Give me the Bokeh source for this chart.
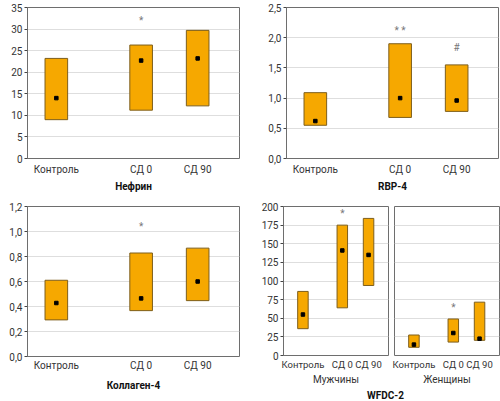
from bokeh.plotting import figure
from bokeh.models import FixedTicker, CustomJSTickFormatter, Range1d
from bokeh.layouts import row, column
from bokeh.embed import file_html
from bokeh.resources import INLINE
from bokeh.core.properties import value

# ---------------- data ----------------
groups = ["Контроль", "СД 0", "СД 90"]

nephrin_low = [9.0, 11.2, 12.2]
nephrin_high = [23.2, 26.3, 29.7]
nephrin_median = [14.0, 22.7, 23.2]
nephrin_sig = ["", "*", ""]
nephrin_sig_y = [None, 32.7, None]
nephrin_ticks = [0, 5, 10, 15, 20, 25, 30, 35]

rbp4_low = [0.55, 0.68, 0.78]
rbp4_high = [1.09, 1.90, 1.55]
rbp4_median = [0.62, 1.00, 0.96]
rbp4_sig = ["", "* *", "#"]
rbp4_sig_y = [None, 2.17, 1.83]
rbp4_ticks = [0.0, 0.5, 1.0, 1.5, 2.0, 2.5]

col4_low = [0.293, 0.367, 0.447]
col4_high = [0.61, 0.828, 0.867]
col4_median = [0.428, 0.465, 0.60]
col4_sig = ["", "*", ""]
col4_sig_y = [None, 1.064, None]
col4_ticks = [0.0, 0.2, 0.4, 0.6, 0.8, 1.0, 1.2]

wfdc_men_low = [36, 64, 94]
wfdc_men_high = [86, 175, 184]
wfdc_men_median = [55, 141, 135]
wfdc_men_sig = ["", "*", ""]
wfdc_men_sig_y = [None, 195, None]

wfdc_women_low = [11, 18, 20.4]
wfdc_women_high = [27.5, 49, 71.6]
wfdc_women_median = [14.6, 30.2, 22.6]
wfdc_women_sig = ["", "*", ""]
wfdc_women_sig_y = [None, 68, None]
wfdc_ticks = [0, 25, 50, 75, 100, 125, 150, 175, 200]

# ---------------- layout / style ----------------
SLOTS = [0, 1.5, 2.5]          # horizontal slots of the three groups
FONT = "Roboto"
ORANGE = "#F6A800"
EDGE = "#7D5E1C"
FRAME = "#6e6e6e"
GRID = "#dedede"
TXT = "#333333"
SIG_OFFSET = {"*": 3, "* *": 3, "#": 0}

comma_fmt = CustomJSTickFormatter(code="return tick.toFixed(1).replace('.', ',');")


def panel(w, h, bl, br, bt, bb, xr, y_end, ticks, low, high, med, sig, sig_y,
          title, label_standoff, title_standoff, xlabel_bold=True,
          left_axis=True, fmt=None, cat_size="10px"):
    p = figure(width=w, height=h, output_backend="svg", toolbar_location=None,
               x_range=Range1d(*xr), y_range=Range1d(0, y_end),
               min_border_left=bl, min_border_right=br,
               min_border_top=bt, min_border_bottom=bb)
    p.outline_line_color = FRAME
    p.outline_line_width = 1
    p.xgrid.visible = False
    p.ygrid.grid_line_color = GRID
    p.ygrid.ticker = FixedTicker(ticks=ticks)

    # y axis
    ya = p.yaxis[0]
    if left_axis:
        ya.ticker = FixedTicker(ticks=ticks)
        if fmt is not None:
            ya.formatter = fmt
        ya.axis_line_color = None
        ya.minor_tick_line_color = None
        ya.major_tick_line_color = "#444444"
        ya.major_tick_out = 3
        ya.major_tick_in = 0
        ya.major_label_text_font = FONT
        ya.major_label_text_font_size = "10px"
        ya.major_label_text_color = TXT
        ya.major_label_standoff = 2
    else:
        ya.visible = False

    # x axis
    xa = p.xaxis[0]
    xa.ticker = FixedTicker(ticks=SLOTS)
    xa.major_label_overrides = {s: g for s, g in zip(SLOTS, groups)}
    xa.axis_line_color = None
    xa.major_tick_line_color = None
    xa.minor_tick_line_color = None
    xa.major_tick_out = 0
    xa.major_tick_in = 0
    xa.major_label_standoff = label_standoff
    xa.major_label_text_font = FONT
    xa.major_label_text_font_size = cat_size
    xa.major_label_text_color = TXT
    xa.axis_label = title
    xa.axis_label_text_font = FONT
    xa.axis_label_text_font_size = "10px"
    xa.axis_label_text_font_style = "bold" if xlabel_bold else "normal"
    xa.axis_label_text_color = "#111111" if xlabel_bold else TXT
    xa.axis_label_standoff = title_standoff

    p.vbar(x=SLOTS, width=0.4, bottom=low, top=high,
           fill_color=ORANGE, line_color=EDGE, line_width=1)
    p.scatter(x=SLOTS, y=med, marker="square", size=3.5,
              fill_color="black", line_color="black")
    for s, y, t in zip(SLOTS, sig_y, sig):
        if t:
            p.text(x=[s], y=[y], text=[t], text_align="center",
                   text_baseline="middle", text_font=value(FONT),
                   text_font_size="10px", text_color="#777777",
                   y_offset=SIG_OFFSET.get(t, 0))
    return p


XR_WIDE = (-0.51, 3.24)
XR_NARROW = (-0.74, 3.26)

p1 = panel(258, 201, 27, 19, 7, 43, XR_WIDE, 35, nephrin_ticks,
           nephrin_low, nephrin_high, nephrin_median, nephrin_sig, nephrin_sig_y,
           "Нефрин", 5, 3)
p2 = panel(242, 201, 28, 2, 7, 43, XR_WIDE, 2.5, rbp4_ticks,
           rbp4_low, rbp4_high, rbp4_median, rbp4_sig, rbp4_sig_y,
           "RBP-4", 5, 3, fmt=comma_fmt)
p3 = panel(258, 200, 27, 19, 5, 45, XR_WIDE, 1.2, col4_ticks,
           col4_low, col4_high, col4_median, col4_sig, col4_sig_y,
           "Коллаген-4", 3, 6, fmt=comma_fmt)
p4a = panel(133, 186, 24, 3, 5, 31, XR_NARROW, 200, wfdc_ticks,
            wfdc_men_low, wfdc_men_high, wfdc_men_median, wfdc_men_sig, wfdc_men_sig_y,
            "Мужчины", 3, 1, xlabel_bold=False, cat_size="9.5px")
p4b = panel(109, 186, 3, 1, 5, 31, XR_NARROW, 200, wfdc_ticks,
            wfdc_women_low, wfdc_women_high, wfdc_women_median, wfdc_women_sig, wfdc_women_sig_y,
            "Женщины", 3, 1, xlabel_bold=False, left_axis=False, cat_size="9.5px")

# common title under the two WFDC-2 panels
pt = figure(width=242, height=14, output_backend="svg", toolbar_location=None,
            x_axis_type=None, y_axis_type=None, min_border=0,
            min_border_left=12, outline_line_color=None)
pt.title.text = "WFDC-2"
pt.title.align = "center"
pt.title.text_font = FONT
pt.title.text_font_size = "10px"
pt.title.text_font_style = "bold"
pt.title.text_color = "#111111"
pt.title.standoff = 0
pt.title.offset = 0
pt.xgrid.visible = False
pt.ygrid.visible = False

layout = column(row(p1, p2), row(p3, column(row(p4a, p4b), pt)))

open("out.html", "w").write(file_html(layout, INLINE))
